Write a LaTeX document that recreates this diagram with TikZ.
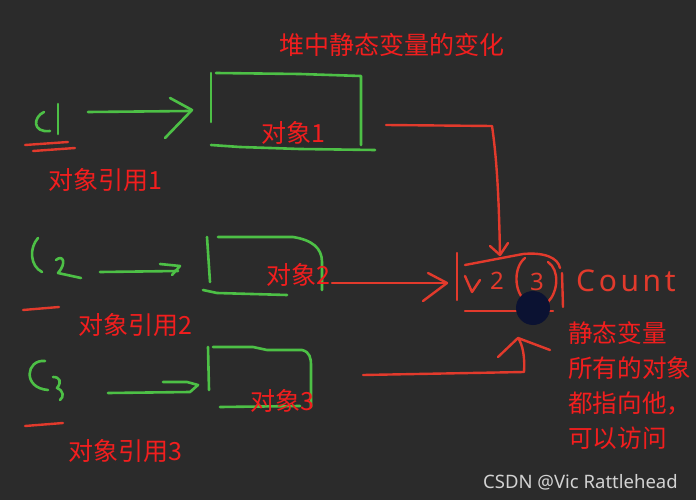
\documentclass[tikz,border=0pt]{standalone}
\usepackage{fontspec}
\setmainfont{Noto Sans}
\newfontfamily\cjk{Noto Sans CJK SC}
\newfontfamily\handfont[LetterSpace=12]{Noto Sans}
\definecolor{bg}{HTML}{2B2B2B}
\definecolor{pen}{HTML}{4DC046}
\definecolor{redpen}{HTML}{E23A2C}
\definecolor{redtxt}{HTML}{F21E1E}
\definecolor{dotc}{HTML}{0B1232}
\definecolor{wm}{HTML}{D2D2D2}
\tikzset{
  gstroke/.style={draw=pen, line width=2.6, line cap=round, line join=round},
  rstroke/.style={draw=redpen, line width=2.4, line cap=round, line join=round},
  lbl/.style={text=redtxt, font=\cjk\fontsize{25}{30}\selectfont, inner sep=0pt},
}
\begin{document}
\begin{tikzpicture}[x=1pt,y=-1pt]
\useasboundingbox (0,0) rectangle (696,500);
\fill[bg] (0,0) rectangle (696,500);

% title
\node[lbl] (title) at (392,45) {堆中静态变量的变化};

% ---------- row 1 ----------
\draw[gstroke] (44,112) .. controls (33,117) and (32,133) .. (50,131);
\draw[gstroke] (58,104) -- (58,134);
\draw[rstroke] (25,145) -- (68,142);
\draw[rstroke] (33,151) -- (75,148);
\coordinate (r1s) at (88,112);
\coordinate (r1e) at (190,111);
\draw[gstroke] (r1s) -- (r1e);
\draw[gstroke] (170,98) -- (192,110) -- (165,138);
\draw[gstroke] (211,73) -- (211,122);
\draw[gstroke] (216,73) -- (300,74) -- (361,76) -- (361,145);
\draw[gstroke] (211,145) -- (240,147) -- (300,149) -- (375,150);
\node[lbl] (o1) at (293,133) {对象1};
\node[lbl] (ref1) at (105,180) {对象引用1};

% ---------- row 2 ----------
\draw[gstroke] (38,238) .. controls (29,248) and (30,266) .. (42,272);
\draw[gstroke] (56,260) .. controls (63,254) and (67,263) .. (58,273) -- (81,278);
\draw[rstroke] (23,310) -- (59,307);
\coordinate (r2s) at (100,272);
\coordinate (r2e) at (178,271);
\draw[gstroke] (r2s) -- (r2e);
\draw[gstroke] (160,264) -- (180,266) -- (172,275);
\draw[gstroke] (207,237) -- (210,282);
\draw[gstroke] (218,237) -- (293,237) .. controls (312,240) and (322,248) .. (322,262) -- (322,290);
\draw[gstroke] (203,290) -- (217,293) -- (287,295);
\node[lbl] (o2) at (298,275) {对象2};
\node[lbl] (ref2) at (135,325) {对象引用2};

% ---------- row 3 ----------
\draw[gstroke] (45,361) .. controls (26,359) and (22,388) .. (48,390);
\draw[gstroke] (53,377) .. controls (60,377) and (62,382) .. (57,388) .. controls (64,391) and (64,397) .. (60,400);
\draw[rstroke] (25,426) -- (63,423);
\coordinate (r3s) at (108,393);
\coordinate (r3e) at (190,392);
\draw[gstroke] (r3s) -- (r3e) -- (198,385) -- (187,382) -- (163,382);
\draw[gstroke] (208,347) -- (209,390);
\draw[gstroke] (213,347) -- (253,347) -- (267,350) -- (302,350) .. controls (310,352) and (311,358) .. (311,366) -- (311,407);
\draw[gstroke] (220,407) -- (300,406);
\node[lbl] (o3) at (282,401) {对象3};
\node[lbl] (ref3) at (125,451) {对象引用3};

% ---------- static variable box ----------
\coordinate (sbL) at (457,253);
\draw[rstroke] (sbL) -- (457,300);
\draw[rstroke] (465,265) -- (523,254) .. controls (545,252) and (558,258) .. (560,268);
\draw[rstroke] (465,311) -- (553,311);
\draw[rstroke] (562,273) -- (563,307);
\draw[rstroke] (465,276) -- (472,292) -- (480,280);
\node[text=redpen, font=\fontsize{24}{24}\selectfont, inner sep=0pt] (v2) at (497,281) {2};
\node[text=redpen, font=\fontsize{24}{24}\selectfont, inner sep=0pt] (v3) at (537,282) {3};
\draw[rstroke] (525,258) .. controls (512,268) and (514,298) .. (530,303);
\draw[rstroke] (548,262) .. controls (560,270) and (558,292) .. (548,302);
\node[text=redpen, font=\handfont\fontsize{30}{30}\selectfont, inner sep=0pt, anchor=west] (count) at (576,281) {Count};
\fill[dotc] (533,308) circle (17);

% ---------- red connectors ----------
\coordinate (c1a) at (386,125);
\coordinate (c1b) at (492,126);
\coordinate (c1e) at (500,255);
\draw[rstroke] (c1a) -- (c1b) .. controls (497,160) and (499,200) .. (c1e);
\draw[rstroke] (490,246) -- (c1e) -- (508,243);

\coordinate (c2a) at (332,283);
\coordinate (c2e) at (446,283);
\draw[rstroke] (c2a) -- (c2e);
\draw[rstroke] (428,273) -- (447,283) -- (423,301);

\coordinate (c3a) at (363,375);
\coordinate (c3b) at (524,372);
\coordinate (c3e) at (518,338);
\draw[rstroke] (c3a) -- (c3b) .. controls (525,358) and (523,345) .. (c3e);
\draw[rstroke] (498,357) -- (c3e) -- (550,350);

% ---------- explanation ----------
\node[lbl, anchor=north west, align=left, font=\cjk\fontsize{24.6}{35}\selectfont] (note) at (568,321)
  {静态变量\\所有的对象\\都指向他，\\可以访问};

% watermark
\node[text=wm, font=\fontsize{18.5}{18.5}\selectfont, inner sep=0pt, anchor=west] (wmk) at (483,482) {CSDN @Vic Rattlehead};
\end{tikzpicture}
\end{document}
